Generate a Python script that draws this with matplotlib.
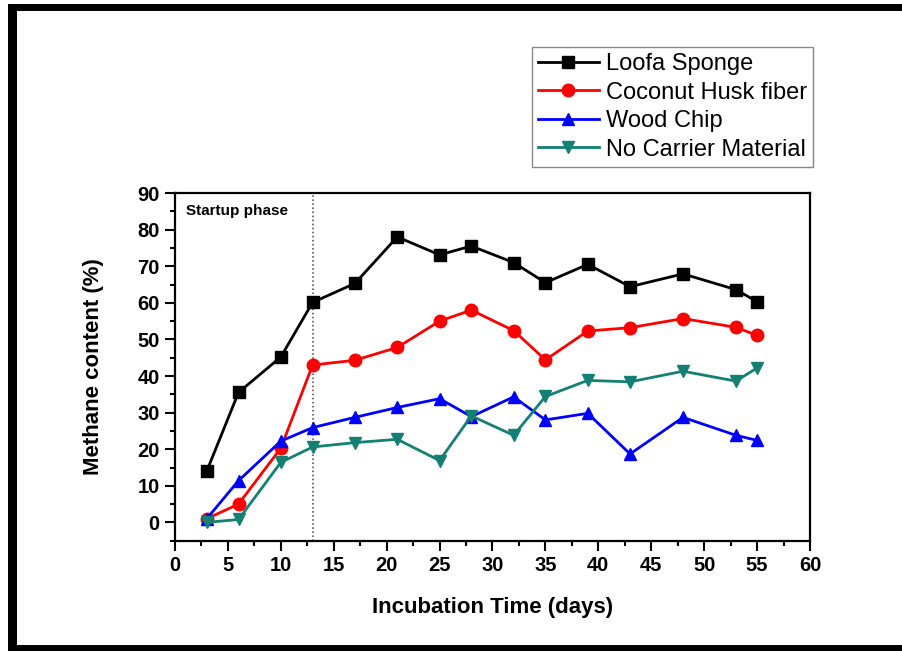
import matplotlib.pyplot as plt
from matplotlib.patches import Rectangle
from matplotlib.ticker import MultipleLocator

plt.rcParams['font.family'] = ['Liberation Sans', 'DejaVu Sans']

days = [3, 6, 10, 13, 17, 21, 25, 28, 32, 35, 39, 43, 48, 53, 55]
loofa = [14.0, 35.5, 45.2, 60.1, 65.3, 78.0, 73.1, 75.5, 71.0, 65.5, 70.5, 64.4, 67.9, 63.6, 60.3]
coconut = [1.0, 5.0, 20.3, 43.0, 44.3, 47.8, 55.0, 58.0, 52.4, 44.4, 52.3, 53.2, 55.7, 53.3, 51.1]
wood = [1.0, 11.4, 22.2, 25.9, 28.7, 31.4, 33.8, 28.9, 34.3, 28.0, 29.8, 18.7, 28.7, 23.8, 22.4]
no_carrier = [0.0, 0.8, 16.4, 20.6, 21.8, 22.7, 16.9, 29.1, 23.8, 34.4, 38.8, 38.4, 41.3, 38.6, 42.2]

series = [
    ("Loofa Sponge", loofa, "black", "s"),
    ("Coconut Husk fiber", coconut, "#ff0000", "o"),
    ("Wood Chip", wood, "#0000ff", "^"),
    ("No Carrier Material", no_carrier, "#128073", "v"),
]

startup_end = 13

fig = plt.figure(figsize=(9.03, 6.51), dpi=100)
ax = fig.add_axes([175 / 903, 1 - 540.7 / 651, 635 / 903, 347.7 / 651])

for label, vals, color, marker in series:
    ax.plot(days, vals, color=color, marker=marker, markersize=9, lw=2, label=label)

ax.axvline(startup_end, color="#444444", ls=":", lw=1.1, zorder=0)
ax.text(1.0, 85, "Startup phase", fontsize=11, fontweight="bold", va="center", ha="left")

ax.set_xlim(0, 60)
ax.set_ylim(-5, 90)
ax.xaxis.set_major_locator(MultipleLocator(5))
ax.xaxis.set_minor_locator(MultipleLocator(2.5))
ax.yaxis.set_major_locator(MultipleLocator(10))
ax.yaxis.set_minor_locator(MultipleLocator(5))
ax.tick_params(which="major", direction="out", length=7, width=1.5, labelsize=14.5, pad=4)
ax.tick_params(which="minor", direction="out", length=3.5, width=1.5)
for lbl in ax.get_xticklabels() + ax.get_yticklabels():
    lbl.set_fontweight("bold")
for sp in ax.spines.values():
    sp.set_linewidth(1.6)

ax.set_xlabel("Incubation Time (days)", fontsize=16, fontweight="bold", labelpad=16)
ax.set_ylabel("Methane content (%)", fontsize=16, fontweight="bold", labelpad=24)

fig.legend(loc="upper right", bbox_to_anchor=(813 / 903, 1 - 47 / 651),
           bbox_transform=fig.transFigure, borderaxespad=0, fontsize=17,
           handlelength=2.6, handletextpad=0.3, labelspacing=0.28,
           borderpad=0.25, fancybox=False, edgecolor="#888888", framealpha=1)

# black frame around the figure
fig.add_artist(Rectangle((8 / 903, 0), 9 / 903, 1 - 4 / 651, transform=fig.transFigure,
                         color="black", lw=0))
fig.add_artist(Rectangle((8 / 903, 1 - 11 / 651), 1, 7 / 651, transform=fig.transFigure,
                         color="black", lw=0))
fig.add_artist(Rectangle((8 / 903, 0), 1, 6 / 651, transform=fig.transFigure,
                         color="black", lw=0))

fig.savefig("out.png", dpi=100)
